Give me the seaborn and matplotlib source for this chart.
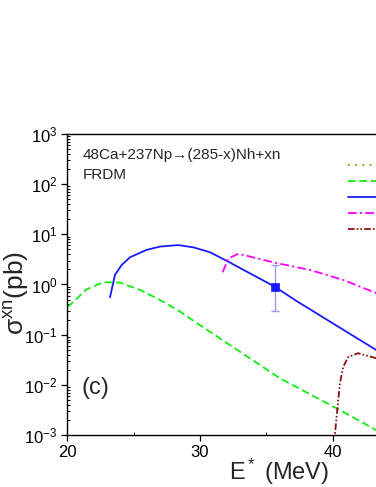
import matplotlib
matplotlib.use("Agg")
import matplotlib.pyplot as plt
from matplotlib.lines import Line2D
from matplotlib.ticker import MultipleLocator, LogLocator, NullFormatter
import seaborn as sns

sns.set_theme(style="ticks")
plt.rcParams["font.family"] = ["Liberation Sans", "DejaVu Sans"]
plt.rcParams["mathtext.fontset"] = "custom"
plt.rcParams["mathtext.rm"] = "Liberation Sans"
plt.rcParams["mathtext.it"] = "Liberation Sans"
plt.rcParams["mathtext.default"] = "regular"
plt.rcParams["axes.unicode_minus"] = False

# -------- data (E* in MeV, sigma in pb) --------
e_2n = [20.0, 20.2, 21.46, 22.71, 23.97, 25.48, 26.99, 28.49, 29.25, 32.26, 36.03, 40.30, 43.06, 44.5]
s_2n = [0.36, 0.39, 0.80, 1.11, 1.09, 0.78, 0.49, 0.29, 0.21, 0.062, 0.0135, 0.0034, 0.00135, 0.00081]

e_3n = [23.22, 23.59, 24.10, 24.72, 25.98, 27.0, 28.36, 29.5, 30.75, 32.13, 35.65, 37.16, 43.2, 44.5]
s_3n = [0.556, 1.55, 2.45, 3.48, 4.9, 5.7, 6.1, 5.5, 4.4, 2.85, 0.90, 0.49, 0.051, 0.032]

e_4n = [31.71, 32.13, 32.89, 35.65, 38.29, 40.8, 43.19, 44.5]
s_4n = [1.75, 3.3, 4.1, 2.72, 1.95, 1.23, 0.69, 0.50]

e_5n = [40.1, 40.17, 40.35, 40.55, 40.80, 41.18, 41.93, 43.26, 44.5]
s_5n = [0.0006, 0.001, 0.0032, 0.0107, 0.023, 0.036, 0.0427, 0.034, 0.027]

# experimental point (3n)
exp_e = [35.65]
exp_s = [0.90]
exp_lo = [0.60]
exp_hi = [1.60]

channels = ["1n", "2n", "3n", "4n", "5n"]
colors = ["#999900", "#11ee11", "#1a1aff", "#ff00ff", "#8b1010"]
styles = [(0, (1, 3)), (0, (4.2, 2.1)), "-", (0, (4.8, 1.8, 1.2, 1.8)),
          (0, (3.6, 1.2, 0.9, 1.2, 0.9, 1.2))]

fig = plt.figure(figsize=(3.76, 4.87), dpi=100)
ax = fig.add_axes([0.179, 0.1068, 1.0585, 0.6181])
ax.set_yscale("log")

curves = {"2n": (e_2n, s_2n), "3n": (e_3n, s_3n), "4n": (e_4n, s_4n), "5n": (e_5n, s_5n)}
for ch, col, ls in zip(channels, colors, styles):
    if ch in curves:
        x, y = curves[ch]
        sns.lineplot(x=x, y=y, ax=ax, color=col, linestyle=ls, linewidth=1.3)

ax.errorbar(exp_e, exp_s, yerr=[exp_lo, exp_hi], fmt="none", ecolor="#9a9aff",
            elinewidth=1.0, capsize=3, capthick=1.0)
sns.scatterplot(x=exp_e, y=exp_s, ax=ax, marker="s", s=40, color="#1a1aff",
                edgecolor="#1a1aff", zorder=5)

ax.set_xlim(20, 50)
ax.set_ylim(1e-3, 1e3)
ax.xaxis.set_major_locator(MultipleLocator(10))
ax.xaxis.set_minor_locator(MultipleLocator(5))
ax.yaxis.set_major_locator(LogLocator(base=10, numticks=10))
ax.yaxis.set_minor_locator(LogLocator(base=10, subs=range(2, 10), numticks=20))
ax.yaxis.set_minor_formatter(NullFormatter())

ax.tick_params(which="major", direction="out", length=4, width=0.9,
               labelsize=12, colors="black", pad=3)
ax.tick_params(which="minor", direction="in", length=2.5, width=0.7, colors="black")
for sp in ax.spines.values():
    sp.set_color("black")
    sp.set_linewidth(1.0)

ax.set_xlabel("E$^*$ (MeV)", fontsize=17)
ax.xaxis.set_label_coords(0.531, -0.072)
ax.set_ylabel("σ$^{xn}$(pb)", fontsize=19)
ax.yaxis.set_label_coords(-0.09, 0.472)

ax.text(0.0377, 0.916, "48Ca+237Np→(285-x)Nh+xn", transform=ax.transAxes,
        fontsize=11, va="baseline", ha="left")
ax.text(0.0377, 0.8495, "FRDM", transform=ax.transAxes,
        fontsize=11, va="baseline", ha="left")
ax.text(0.036, 0.156, "(c)", transform=ax.transAxes, fontsize=17,
        va="center", ha="left")

handles = [Line2D([], [], color=c, linestyle=s, linewidth=1.3) for c, s in zip(colors, styles)]
ax.legend(handles, channels, loc="upper left", bbox_to_anchor=(0.7045, 0.913),
          frameon=False, borderpad=0, borderaxespad=0, handlelength=2.6,
          fontsize=9, labelspacing=0.32)

fig.savefig("out.png", dpi=100)
